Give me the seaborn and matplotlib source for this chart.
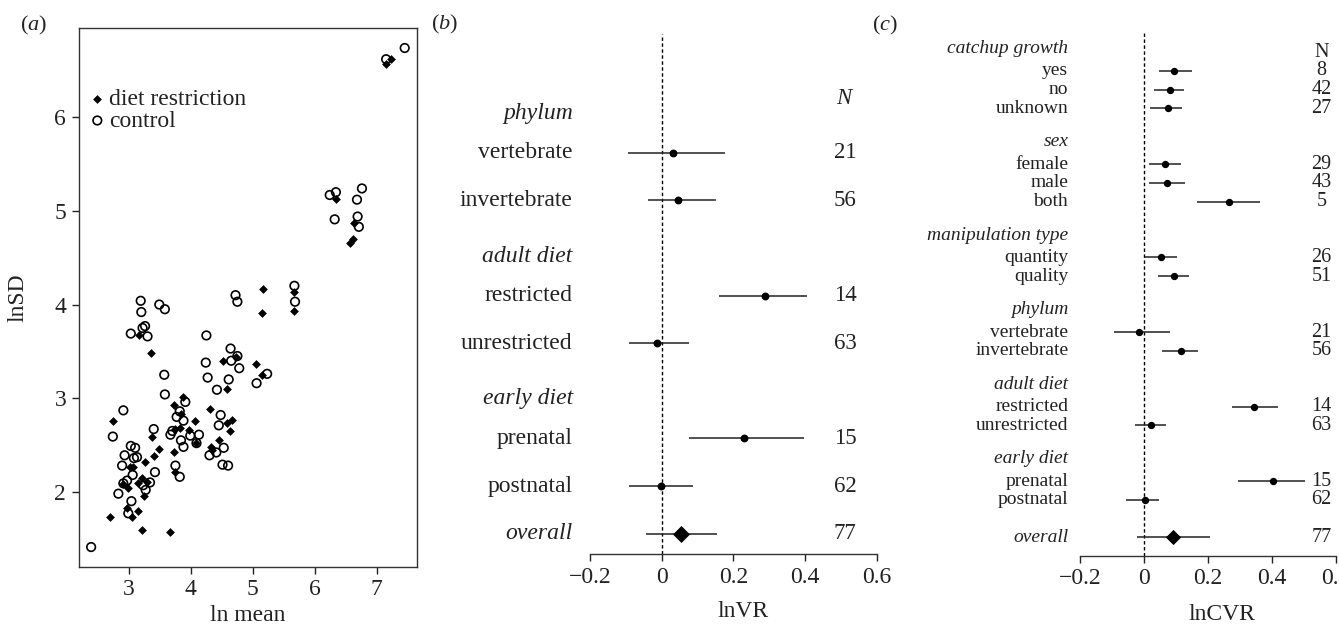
import numpy as np
import pandas as pd
import matplotlib
matplotlib.use("Agg")
import matplotlib.pyplot as plt
import matplotlib.transforms as mtransforms
import seaborn as sns

# (a) ln mean vs ln SD, control (open circles) and diet restriction (filled diamonds)
ctrl_mean = [2.39, 2.74, 2.91, 2.83, 2.89, 2.93, 3.03, 3.10, 3.08, 3.13, 3.06, 2.97, 2.91,
             2.99, 3.04, 3.27, 3.34, 3.42, 3.40, 3.03, 3.20, 3.22, 3.26, 3.30, 3.49, 3.58,
             3.19, 3.57, 3.58, 3.91, 3.88, 3.77, 3.82, 3.67, 3.70, 3.84, 3.88, 3.75, 3.82,
             3.99, 4.13, 4.09, 4.25, 4.24, 4.27, 4.42, 4.64, 4.65, 4.75, 4.78, 4.61, 5.06,
             5.23, 4.48, 4.45, 4.53, 4.41, 4.30, 4.51, 4.60, 4.72, 4.75, 5.68, 5.67, 6.24,
             6.34, 6.32, 6.76, 6.68, 6.69, 6.71, 7.15, 7.45, 3.23]
ctrl_sd = [1.41, 2.59, 2.87, 1.98, 2.28, 2.39, 2.49, 2.47, 2.36, 2.37, 2.18, 2.12, 2.09,
           1.77, 1.90, 2.02, 2.10, 2.21, 2.67, 3.69, 3.92, 3.75, 3.77, 3.66, 4.00, 3.95,
           4.04, 3.25, 3.04, 2.96, 2.76, 2.80, 2.86, 2.61, 2.65, 2.55, 2.48, 2.28, 2.16,
           2.60, 2.61, 2.52, 3.67, 3.38, 3.22, 3.09, 3.53, 3.40, 3.45, 3.32, 3.20, 3.16,
           3.26, 2.82, 2.71, 2.47, 2.42, 2.39, 2.29, 2.28, 4.10, 4.03, 4.03, 4.20, 5.17,
           5.20, 4.91, 5.24, 5.12, 4.94, 4.83, 6.62, 6.74, 2.07]
dr_mean = [2.69, 2.74, 2.97, 3.05, 3.15, 3.21, 3.67, 3.01, 3.06, 2.99, 2.90, 3.15, 3.21,
           3.26, 3.29, 3.25, 3.40, 3.48, 3.38, 3.35, 3.16, 3.72, 3.74, 3.72, 3.88, 3.84,
           3.82, 3.75, 3.97, 4.06, 4.31, 4.32, 4.34, 4.45, 4.51, 4.58, 4.59, 4.63, 4.67,
           4.72, 5.05, 5.15, 5.14, 5.67, 4.09, 5.16, 5.67, 6.34, 6.63, 6.56, 6.62, 7.15, 7.23]
dr_sd = [1.73, 2.76, 1.83, 1.73, 1.80, 1.59, 1.57, 2.27, 2.26, 2.04, 2.08, 2.09, 2.15,
         2.32, 2.10, 1.96, 2.38, 2.46, 2.59, 3.48, 3.68, 2.43, 2.21, 2.93, 3.01, 2.83,
         2.68, 2.67, 2.66, 2.76, 2.88, 2.48, 2.45, 2.55, 3.40, 3.10, 2.73, 2.65, 2.77,
         3.44, 3.37, 3.25, 3.91, 3.93, 2.52, 4.17, 4.13, 5.13, 4.87, 4.66, 4.70, 6.57, 6.62]

# (b) lnVR meta-regression
vr_groups = ["phylum", "adult diet", "early diet"]
vr_levels = [["vertebrate", "invertebrate"], ["restricted", "unrestricted"], ["prenatal", "postnatal"]]
vr_est = [0.031, 0.046, 0.289, -0.012, 0.230, -0.002, 0.053]
vr_lo = [-0.093, -0.037, 0.159, -0.091, 0.077, -0.090, -0.044]
vr_hi = [0.177, 0.151, 0.405, 0.077, 0.396, 0.088, 0.155]
vr_n = [21, 56, 14, 63, 15, 62, 77]

# (c) lnCVR meta-regression
cvr_groups = ["catchup growth", "sex", "manipulation type", "phylum", "adult diet", "early diet"]
cvr_levels = [["yes", "no", "unknown"], ["female", "male", "both"], ["quantity", "quality"],
              ["vertebrate", "invertebrate"], ["restricted", "unrestricted"], ["prenatal", "postnatal"]]
cvr_est = [0.094, 0.081, 0.075, 0.065, 0.071, 0.266, 0.052, 0.094, -0.015, 0.116,
           0.344, 0.022, 0.404, 0.003, 0.090]
cvr_lo = [0.048, 0.031, 0.019, 0.017, 0.017, 0.167, 0.003, 0.045, -0.093, 0.057,
          0.274, -0.028, 0.295, -0.056, -0.021]
cvr_hi = [0.149, 0.126, 0.118, 0.115, 0.127, 0.363, 0.104, 0.142, 0.081, 0.168,
          0.420, 0.069, 0.503, 0.048, 0.206]
cvr_n = [8, 42, 27, 29, 43, 5, 26, 51, 21, 56, 14, 63, 15, 62, 77]

forest_ticks = [-0.2, 0, 0.2, 0.4, 0.6]
forest_ticklabels = ["\u22120.2", "0", "0.2", "0.4", "0.6"]

sns.set_theme(style="ticks")
plt.rcParams["font.family"] = ["Liberation Serif", "DejaVu Serif"]
plt.rcParams["mathtext.fontset"] = "custom"
plt.rcParams["mathtext.rm"] = "Liberation Serif"
plt.rcParams["mathtext.it"] = "Liberation Serif:italic"
plt.rcParams["text.color"] = "#222222"
plt.rcParams["axes.labelcolor"] = "#222222"
plt.rcParams["xtick.color"] = "#222222"
plt.rcParams["ytick.color"] = "#222222"

fig = plt.figure(figsize=(13.39, 6.24), dpi=100)

# ---------- panel a ----------
ax_a = fig.add_axes([0.0588, 0.0918, 0.2527, 0.8628])
df_c = pd.DataFrame({"ln mean": ctrl_mean, "lnSD": ctrl_sd})
df_d = pd.DataFrame({"ln mean": dr_mean, "lnSD": dr_sd})
sns.scatterplot(data=df_c, x="ln mean", y="lnSD", marker="o", s=38, color="black",
                ax=ax_a, label="control", zorder=2)
ax_a.collections[-1].set_facecolor("none")
ax_a.collections[-1].set_edgecolor("black")
ax_a.collections[-1].set_linewidth(1.2)
sns.scatterplot(data=df_d, x="ln mean", y="lnSD", marker="D", s=20, color="black",
                linewidth=0, ax=ax_a, label="diet restriction", zorder=3)
h, l = ax_a.get_legend_handles_labels()
ax_a.legend(h[::-1], l[::-1], loc="upper left", bbox_to_anchor=(0.02, 0.888), frameon=False,
            fontsize=17, borderpad=0, handletextpad=0.0, labelspacing=0.0, handlelength=1.0,
            borderaxespad=0)
ax_a.set_xlim(2.19, 7.65)
ax_a.set_ylim(1.2, 6.95)
ax_a.set_xticks([3, 4, 5, 6, 7])
ax_a.set_yticks([2, 3, 4, 5, 6])
ax_a.tick_params(labelsize=17, length=5, width=1, direction="out", pad=4)
for sp in ax_a.spines.values():
    sp.set_color("#333333")
    sp.set_linewidth(1)
ax_a.set_xlabel("ln mean", fontsize=17)
ax_a.set_ylabel("lnSD", fontsize=17)
ax_a.xaxis.set_label_coords(0.5, -0.09)
ax_a.xaxis.label.set_va("center")
ax_a.yaxis.set_label_coords(-0.18, 0.5)
ax_a.yaxis.label.set_va("center")


def forest(ax, groups, levels, est, lo, hi, ns, gap, head_dy, lab_x, n_x, n_head,
           n_head_y, fs_lab, fs_n, pt_s, dia_s, xlabel):
    # walk down the rows, header slot then the levels, overall at 0
    y = sum(1 + len(lv) + gap for lv in levels)
    tr = mtransforms.blended_transform_factory(ax.transAxes, ax.transData)
    names, ys = [], []
    for g, lv in zip(groups, levels):
        ax.text(lab_x, y + head_dy, g, ha="right", va="center", style="italic",
                fontsize=fs_lab, transform=tr)
        y -= 1
        for name in lv:
            names.append(name)
            ys.append(y)
            y -= 1
        y -= gap
    names.append("overall")
    ys.append(0)
    rows = pd.DataFrame({"label": names, "y": ys, "est": est, "lo": lo, "hi": hi, "n": ns})
    ax.axvline(0, color="black", lw=1, ls=(0, (2.5, 1.8)), zorder=1)
    ax.hlines(rows["y"], rows["lo"], rows["hi"], color="#222222", lw=1.1, zorder=2)
    sns.scatterplot(data=rows.iloc[:-1], x="est", y="y", color="black", s=pt_s, linewidth=0,
                    ax=ax, zorder=3)
    sns.scatterplot(data=rows.iloc[-1:], x="est", y="y", color="black", marker="D", s=dia_s,
                    linewidth=0, ax=ax, zorder=3)
    for _, r in rows.iterrows():
        ax.text(lab_x, r["y"], r["label"], ha="right", va="center", fontsize=fs_lab,
                style="italic" if r["label"] == "overall" else "normal", transform=tr)
        ax.text(n_x, r["y"], str(r["n"]), ha="center", va="center", fontsize=fs_n)
    ax.text(n_x, n_head_y, n_head, ha="center", va="center", fontsize=fs_n)
    ax.set_xlim(-0.2, 0.6)
    ax.set_xticks(forest_ticks)
    ax.set_xticklabels(forest_ticklabels)
    ax.set_yticks([])
    ax.set_ylabel("")
    ax.set_xlabel(xlabel, fontsize=17)
    ax.xaxis.label.set_va("center")
    for s in ["left", "top", "right"]:
        ax.spines[s].set_visible(False)
    ax.spines["bottom"].set_color("#333333")
    ax.spines["bottom"].set_linewidth(1)
    ax.tick_params(axis="x", labelsize=17, length=5, width=1, direction="out", pad=4)


# ---------- panel b ----------
ax_b = fig.add_axes([0.4406, 0.1115, 0.2141, 0.8345])
forest(ax_b, vr_groups, vr_levels, vr_est, vr_lo, vr_hi, vr_n, gap=0, head_dy=-0.17,
       lab_x=-0.06, n_x=0.512, n_head="$\\mathit{N}$", n_head_y=9.13, fs_lab=17, fs_n=16.5,
       pt_s=32, dia_s=75, xlabel="lnVR")
ax_b.set_ylim(-0.435, 10.5)
ax_b.xaxis.set_label_coords(0.534, -0.109)

# ---------- panel c ----------
ax_c = fig.add_axes([0.8066, 0.1095, 0.1912, 0.8377])
forest(ax_c, cvr_groups, cvr_levels, cvr_est, cvr_lo, cvr_hi, cvr_n, gap=1, head_dy=0.2,
       lab_x=-0.046, n_x=0.555, n_head="N", n_head_y=26.0, fs_lab=14, fs_n=14.5,
       pt_s=28, dia_s=60, xlabel="lnCVR")
ax_c.set_ylim(-0.99, 27.04)
ax_c.xaxis.set_label_coords(0.553, -0.113)

fig.text(33.7 / 1339, 1 - 25 / 624, "($\\mathit{a}$)", ha="center", va="center", fontsize=16)
fig.text(445 / 1339, 1 - 24 / 624, "($\\mathit{b}$)", ha="center", va="center", fontsize=16)
fig.text(885 / 1339, 1 - 25 / 624, "($\\mathit{c}$)", ha="center", va="center", fontsize=16)

fig.savefig("out.png", dpi=100)
